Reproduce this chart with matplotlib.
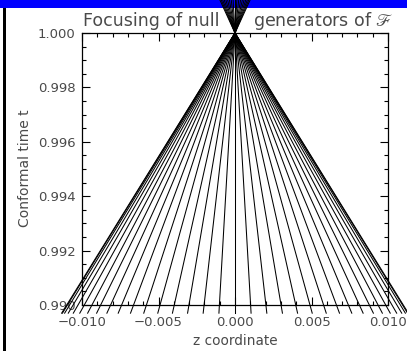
import numpy as np
import matplotlib
matplotlib.use("Agg")
import matplotlib.pyplot as plt
from matplotlib.patches import Rectangle
from matplotlib.ticker import MultipleLocator

# Horizontal offset (z) of each null generator at t = 0.990; the fan is symmetric
offsets_half = [0.0, 0.00102, 0.00202, 0.00301, 0.00397, 0.00490, 0.00579,
                0.00663, 0.00741, 0.00813, 0.00878, 0.00935, 0.00985,
                0.01026, 0.01058, 0.01081, 0.01095, 0.01100]
# last time each generator is followed to (outer ones stop at the focus)
t_end_half = [1.0014] * 10 + [1.0000] * 8
t_focus = 1.000          # focal time where all generators meet
t_ref = 0.990            # time at which offsets are given
t_start = 0.9897         # first time each generator is drawn from

x_ticks = [-0.010, -0.005, 0.000, 0.005, 0.010]
x_labels = ["\u22120.010", "\u22120.005", "0.000", "0.005", "0.010"]
y_ticks = [0.990, 0.992, 0.994, 0.996, 0.998, 1.000]
y_labels = ["0.990", "0.992", "0.994", "0.996", "0.998", "1.000"]

W, H = 407, 351
fig = plt.figure(figsize=(W / 100, H / 100), dpi=100)
fig.patch.set_facecolor("white")

# blue header strip and dark left edge bar
fig.add_artist(Rectangle((0, 1 - 8 / H), 1, 8 / H, transform=fig.transFigure,
                         facecolor="#0000ff", edgecolor="none", zorder=-5))
fig.add_artist(Rectangle((3 / W, 0), 3 / W, 1 - 8 / H, transform=fig.transFigure,
                         facecolor="black", edgecolor="none", zorder=-5))

ax = fig.add_axes([82 / W, 1 - 305 / H, 306 / W, 272 / H])
ax.set_xlim(-0.010, 0.010)
ax.set_ylim(0.990, 1.000)

for c, te in zip(offsets_half, t_end_half):
    for sgn in ([1] if c == 0 else [1, -1]):
        t = np.array([t_start, te])
        z = sgn * c * (t_focus - t) / (t_focus - t_ref)
        ax.plot(z, t, color="black", lw=0.75, clip_on=False, zorder=3)

txt_color = "#4a4a4a"
fs = 9.5
ax.set_xticks(x_ticks)
ax.set_xticklabels(x_labels)
ax.set_yticks(y_ticks)
ax.set_yticklabels(y_labels)
ax.xaxis.set_minor_locator(MultipleLocator(0.001))
ax.yaxis.set_minor_locator(MultipleLocator(0.0005))
ax.tick_params(which="both", direction="in", top=True, right=True,
               colors="black", labelcolor=txt_color, labelsize=fs)
ax.tick_params(which="major", length=6, width=0.8)
ax.tick_params(which="minor", length=3, width=0.8)
ax.tick_params(axis="y", pad=4.5)
ax.tick_params(axis="x", pad=8)
for s in ax.spines.values():
    s.set_linewidth(0.9)
    s.set_color("black")

fig.text(25 / W, 1 - 168 / H, "Conformal time t", rotation=90, ha="center",
         va="center", fontsize=10, color=txt_color)
fig.text(235 / W, 1 - 341 / H, "z coordinate", ha="center", va="center",
         fontsize=9.8, color=txt_color)

fig.text(83 / W, 1 - 26 / H, "Focusing of null", ha="left", va="baseline",
         fontsize=12.5, color=txt_color)
fig.text(253 / W, 1 - 26 / H, r"generators of $\mathscr{F}$", ha="left",
         va="baseline", fontsize=12.5, color=txt_color, math_fontfamily="stix")

fig.savefig("out.png", dpi=100)
